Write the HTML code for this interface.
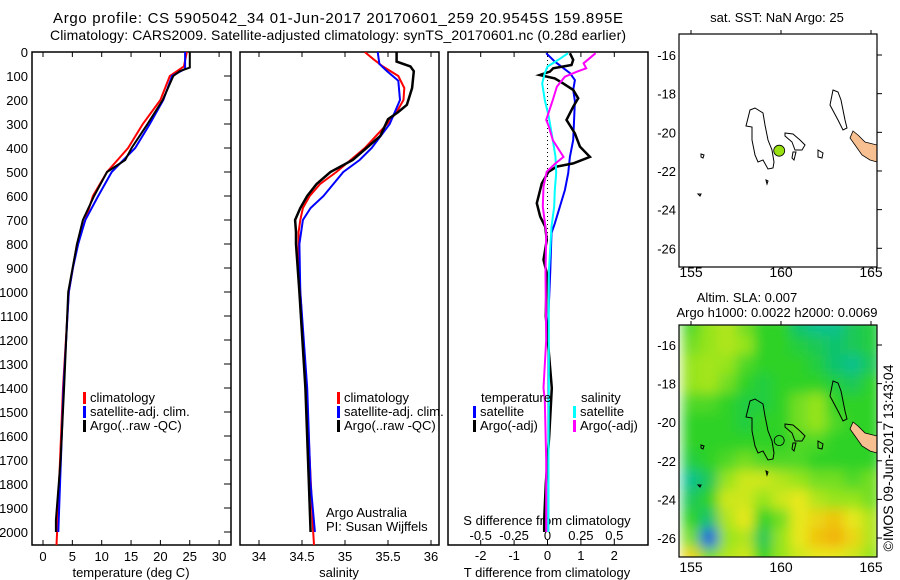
<!DOCTYPE html>
<html><head><meta charset="utf-8"><style>
html,body{margin:0;padding:0;background:#fff;}
svg{display:block;font-family:"Liberation Sans",sans-serif;}
text{font-size:13px;fill:#000;}
</style></head><body>
<svg id="fig" width="900" height="580" viewBox="0 0 900 580" xmlns="http://www.w3.org/2000/svg">
<defs>
<clipPath id="c1"><rect x="32" y="52" width="199" height="493"/></clipPath>
<clipPath id="c2"><rect x="240" y="52" width="199" height="493"/></clipPath>
<clipPath id="c3"><rect x="448" y="52" width="200" height="493"/></clipPath>
<clipPath id="cm2"><rect x="679" y="325" width="198" height="232"/></clipPath>
<filter id="bl" x="-10%" y="-10%" width="120%" height="120%"><feGaussianBlur stdDeviation="6"/></filter>
</defs>
<text x="338" y="23" text-anchor="middle" textLength="570" style="font-size:15px">Argo profile: CS 5905042_34 01-Jun-2017 20170601_259 20.9545S 159.895E</text>
<text x="338" y="40" text-anchor="middle" textLength="576" style="font-size:14px">Climatology: CARS2009. Satellite-adjusted climatology: synTS_20170601.nc (0.28d earlier)</text>
</svg>
<script>
// ---- data ----
const tDepClim=[0,60,100,150,200,300,400,500,600,700,800,900,1000,1400,2000,2054];
const tClim=[24.5,24,21.6,20.8,20,17,14.5,10.9,8.5,7.2,5.8,5.1,4.4,3.4,2.4,2.3];
const tDepSat=[0,70,100,200,300,400,500,600,700,800,900,1000,1400,2000];
const tSat=[24.2,24.2,22,20.5,18.2,15.7,11.7,9.4,7.2,6,5.1,4.4,3.5,2.6];
const tDepArgo=[0,65,80,100,200,300,400,450,500,600,700,800,1000,1400,1700,1950,2000];
const tArgo=[25,25,23.3,22.2,20.4,17.8,15.1,14,10.9,8.7,6.8,5.8,4.3,3.6,3.0,2.2,2.2];
const sDepClim=[0,30,60,100,150,200,250,300,400,500,550,600,650,700,750,900,1000,1400,2000,2054];
const sClim=[35.23,35.33,35.44,35.62,35.69,35.68,35.6,35.49,35.23,34.9,34.71,34.59,34.51,34.48,34.46,34.46,34.48,34.55,34.63,34.64];
const sDepSat=[0,50,80,120,200,300,400,450,500,600,650,700,800,1000,1400,1800,2000];
const sSat=[35.38,35.4,35.49,35.62,35.64,35.52,35.31,35.17,34.98,34.75,34.6,34.51,34.47,34.48,34.56,34.6,34.65];
const sDepArgo=[0,40,60,80,150,220,250,280,350,400,450,500,550,600,650,700,750,800,1000,1400,1800,2000];
const sArgo=[35.6,35.6,35.76,35.8,35.78,35.72,35.62,35.5,35.41,35.25,35.09,34.83,34.67,34.56,34.48,34.42,34.43,34.43,34.47,34.54,34.58,34.6];
const dDepTSat=[5,40,88,117,158,204,367,437,505,575,644,714,754,921,1088,1500,2000];
const dTSat=[-0.04,0.22,0.67,0.82,0.77,0.82,0.77,0.67,0.62,0.52,0.37,0.22,0.12,0.08,0.03,0.03,0.02];
const dDepTArgo=[5,33,54,68,82,96,110,131,158,193,228,283,339,394,437,464,478,499,547,630,686,728,783,866,921,1100,1400,1600,1800,1950,2000];
const dTArgo=[0.67,0.77,0.72,0.17,0.07,-0.23,0.22,0.47,0.77,0.92,0.77,0.57,0.82,0.97,1.27,0.77,0.27,0.03,-0.17,-0.32,-0.22,-0.07,-0.02,-0.12,-0.02,-0.05,0.13,0.05,-0.05,-0.1,-0.1];
const dDepSSat=[5,33,61,88,131,200,270,367,437,505,575,644,728,921,1400,2000];
const dSSat=[0.154,0.08,0,-0.02,-0.04,-0.02,0.01,0.04,0.06,0.065,0.055,0.05,0.03,0.01,0.01,0.005];
const dDepSArgo=[5,47,68,82,103,144,200,283,310,367,437,464,499,561,644,754,921,1200,1400,1450,1700,2000];
const dSArgo=[0.36,0.27,0.29,0.22,0.13,0.07,0.04,-0.01,0.01,0.04,0.12,0.06,-0.006,-0.03,-0.035,-0.01,-0.015,-0.01,-0.03,-0.02,-0.01,-0.01];
const depthTicks=[0,100,200,300,400,500,600,700,800,900,1000,1100,1200,1300,1400,1500,1600,1700,1800,1900,2000];
const tempTicks=[0,5,10,15,20,25,30];
const salTicks=[34,34.5,35,35.5,36];
const salTickLabels=["34","34.5","35","35.5","36"];
const tdTicks=[-2,-1,0,1,2];
const sdTicks=[-0.5,-0.25,0,0.25,0.5];
const sdTickLabels=["-0.5","-0.25","0","0.25","0.5"];
const lonTicks=[155,160,165];
const latTicks=[-16,-18,-20,-22,-24,-26];
const argoLon=159.9, argoLat=-20.95;
const slaLats=[-15,-16,-17,-18,-19,-20,-21,-22,-23,-24,-25,-26,-27];
const slaLons=[155,156,157,158,159,160,161,162,163,164,165];
const sla=[
[0.1,0.3,0.4,0.2,0,0,-0.3,-0.4,-0.4,-0.2,-0.1],
[0.2,0.3,0.4,0.3,0,0,-0.1,-0.2,-0.3,-0.2,-0.1],
[0.3,0.35,0.3,0.1,0,0,0,-0.1,-0.3,-0.4,-0.2],
[0.3,0.35,0.2,0,-0.1,0,0,0,-0.1,-0.2,0],
[0.1,0.1,0,-0.1,-0.1,0,0.2,0.3,0,0,0],
[0,0,0,-0.1,0,0,0.2,0.3,0.1,0,0],
[0,0,0,0,0,0,0.1,0.1,0,0,0],
[-0.1,0,0.1,0.2,0.1,0.1,0.1,0,0,0,0],
[-0.4,-0.2,0.3,0.5,0.5,0.4,0.3,0.2,0.2,0.1,0.2],
[-0.2,0,0.5,0.5,0.3,0.5,0.6,0.4,0.3,0.3,0.2],
[0,-0.3,0.4,0.6,0,0.2,0.6,0.7,0.8,0.6,0.4],
[0.2,-1,0.3,0.4,-0.2,0.3,0.6,0.8,0.9,0.7,0.4],
[0.7,0.2,0.4,0.5,0,0.3,0.5,0.6,0.6,0.5,0.3]];

// ---- scales ----
const yD=d=>52+d*0.24;
const xT=v=>43+v*5.87;
const xS=v=>259+(v-34)*86;
const xTd=v=>547.5+v*33.4;
const xSd=v=>547.5+v*133.6;
const xLon=l=>691+(l-155)*18;
const yLat1=l=>55+(-16-l)*19.33;
const yLat2=l=>345+(-16-l)*19.3;

const NS="http://www.w3.org/2000/svg";
const svg=document.getElementById('fig');
function mk(tag,at,parent){const e=document.createElementNS(NS,tag);for(const k in at)e.setAttribute(k,at[k]);(parent||svg).appendChild(e);return e;}
function txt(x,y,s,anchor,parent,size){const e=mk('text',{x:x,y:y,'text-anchor':anchor||'start'},parent);if(size)e.style.fontSize=size+'px';e.textContent=s;return e;}

// frames
const frames=[[32,231,'temperature-panel'],[240,439,'salinity-panel'],[448,648,'difference-panel']];
frames.forEach(f=>{const r=mk('rect',{x:f[0],y:52,width:f[1]-f[0],height:493,fill:'none',stroke:'#000','stroke-width':1.5});

});

// depth axis
depthTicks.forEach(d=>{const t=txt(28,yD(d)+5,String(d),'end');


const l=mk('line',{x1:224,x2:231,y1:yD(d),y2:yD(d),stroke:'#000'});

});

function xAxis(ticks,labels,fx,ylab,name){ticks.forEach((v,i)=>{const x=fx(v);
const a=mk('line',{x1:x,x2:x,y1:52,y2:57,stroke:'#000'});


const b=mk('line',{x1:x,x2:x,y1:540,y2:545,stroke:'#000'});


const t=txt(x,ylab,labels[i],'middle');

});}
xAxis(tempTicks,tempTicks.map(String),xT,561,'temperature');
xAxis(salTicks,salTickLabels,xS,561,'salinity');
xAxis(tdTicks,tdTicks.map(String),xTd,560,'t-difference');
sdTicks.forEach((v,i)=>{const t=txt(xSd(v),540,sdTickLabels[i],'middle');

});

let t;
t=txt(131,577,'temperature (deg C)','middle');


t=txt(339,577,'salinity','middle');


t=txt(547,577,'T difference from climatology','middle');


t=txt(547,525,'S difference from climatology','middle');



// series
function series(deps,vals,fx,color,clip,name,w){const pts=deps.map((d,i)=>fx(vals[i]).toFixed(1)+','+yD(d).toFixed(1)).join(' ');
const p=mk('polyline',{points:pts,fill:'none',stroke:color,'stroke-width':w||2,'clip-path':'url(#'+clip+')'});

}
const zl=mk('line',{x1:xTd(0),x2:xTd(0),y1:52,y2:yD(800),stroke:'#000','stroke-dasharray':'1,3'});


series(tDepClim,tClim,xT,'#ff0000','c1','temperature-climatology-line');
series(tDepSat,tSat,xT,'#0000ff','c1','temperature-satellite-line');
series(tDepArgo,tArgo,xT,'#000000','c1','temperature-argo-line');
series(sDepClim,sClim,xS,'#ff0000','c2','salinity-climatology-line');
series(sDepSat,sSat,xS,'#0000ff','c2','salinity-satellite-line');
series(sDepArgo,sArgo,xS,'#000000','c2','salinity-argo-line',2.5);
series(dDepTSat,dTSat,xTd,'#0000ff','c3','t-diff-satellite-line');
series(dDepTArgo,dTArgo,xTd,'#000000','c3','t-diff-argo-line',2.5);
series(dDepSSat,dSSat,xSd,'#00ffff','c3','s-diff-satellite-line');
series(dDepSArgo,dSArgo,xSd,'#ff00ff','c3','s-diff-argo-line');

// legends
function legend(x,y,color,label,name){const r=mk('rect',{x:x,y:y-10,width:3,height:12,fill:color});


const tt=txt(x+7,y,label,'start');

}
legend(83,402,'#ff0000','climatology','legend-climatology');
legend(83,416,'#0000ff','satellite-adj. clim.','legend-satellite-adj');
legend(83,430,'#000000','Argo(..raw -QC)','legend-argo-raw');
legend(337,402,'#ff0000','climatology','legend2-climatology');
legend(337,416,'#0000ff','satellite-adj. clim.','legend2-satellite-adj');
legend(337,430,'#000000','Argo(..raw -QC)','legend2-argo-raw');
t=txt(481,402,'temperature','start');


t=txt(581,402,'salinity','start');


legend(473,416,'#0000ff','satellite','legend-t-satellite');
legend(473,430,'#000000','Argo(-adj)','legend-t-argo');
legend(573,416,'#00ffff','satellite','legend-s-satellite');
legend(573,430,'#ff00ff','Argo(-adj)','legend-s-argo');
t=txt(326,517,'Argo Australia','start');


t=txt(326,531,'PI: Susan Wijffels','start');



// ---- maps ----
function col(v){const stops=[[-1,[16,96,220]],[-0.6,[0,190,200]],[-0.3,[16,195,110]],[0,[45,210,40]],[0.3,[150,228,30]],[0.6,[232,232,30]],[1,[245,160,0]]];
v=Math.max(-1,Math.min(1,v));for(let i=1;i<stops.length;i++){if(v<=stops[i][0]){const a=stops[i-1],b=stops[i],f=(v-a[0])/(b[0]-a[0]);
return 'rgb('+a[1].map((c,j)=>Math.round(c+(b[1][j]-c)*f)).join(',')+')';}}return 'rgb(245,160,0)';}
const hmClip=mk('g',{'clip-path':'url(#cm2)'});


const hm=mk('g',{filter:'url(#bl)'},hmClip);
slaLats.forEach((la,i)=>slaLons.forEach((lo,j)=>{const x=xLon(lo-0.5),y=yLat2(la+0.5);
const c=mk('rect',{x:x,y:y,width:18.5,height:19.8,fill:col(sla[i][j])},hm);

}));

const islands=[
[[750,110],[755,108],[763,113],[765,125],[768,140],[772,150],[774,162],[773,168],[768,169],[763,160],[758,162],[755,155],[752,140],[752,127],[746,126],[748,118]],
[[785,133],[793,134],[800,140],[805,145],[802,150],[795,150],[792,142],[785,136]],
[[833,90],[838,92],[841,100],[843,110],[845,120],[847,128],[843,130],[838,120],[830,105],[832,95]],
[[818,150],[823,153],[822,158],[818,157]],
[[793,152],[796,152],[794,160],[792,158]],
[[701,154],[704,155],[703,158],[701,157]],
[[766,180],[768,181],[767,184]],
[[698,194],[701,194],[700,196]]];
const ncFill=[[853,131],[858,135],[865,142],[877,145],[877,162],[870,160],[862,155],[855,145],[850,138]];
[0,291].forEach((dy,mi)=>{
const f=mk('polygon',{points:ncFill.map(p=>p[0]+','+(p[1]+dy)).join(' '),fill:'#f8c090',stroke:'#000','stroke-width':0.8});


islands.forEach(poly=>{const p=mk('polygon',{points:poly.map(q=>q[0]+','+(q[1]+dy)).join(' '),fill:'none',stroke:'#000','stroke-width':1});

});
const y0=mi?325:34;
const fr=mk('rect',{x:679,y:y0,width:198,height:mi?232:233,fill:'none',stroke:'#000','stroke-width':1.2});


const yl=mi?yLat2:yLat1;
lonTicks.forEach(l=>{const x=xLon(l);
const a=mk('line',{x1:x,x2:x,y1:y0-4,y2:y0,stroke:'#000'});


const tl=txt(x,y0+(mi?247:243),String(l),'middle',null,14);

});
latTicks.forEach(l=>{const y=yl(l);
const a=mk('line',{x1:877,x2:882,y1:y,y2:y,stroke:'#000'});


const tl=txt(676,y+5,String(l),'end',null,13);

});
const c=mk('circle',{cx:xLon(argoLon),cy:yl(argoLat),r:mi?5:5.5,fill:mi?'none':'#99e010',stroke:'#000','stroke-width':0.8});

});

t=txt(777,22,'sat. SST: NaN Argo: 25','middle');


t=txt(747,302,'Altim. SLA: 0.007','middle');


t=txt(777,317,'Argo h1000: 0.0022 h2000: 0.0069','middle');


t=mk('text',{x:0,y:0,'text-anchor':'middle',transform:'translate(893,458) rotate(-90)'});
t.style.fontSize='14px';
t.textContent='©IMOS 09-Jun-2017 13:43:04';


</script>
</body></html>
